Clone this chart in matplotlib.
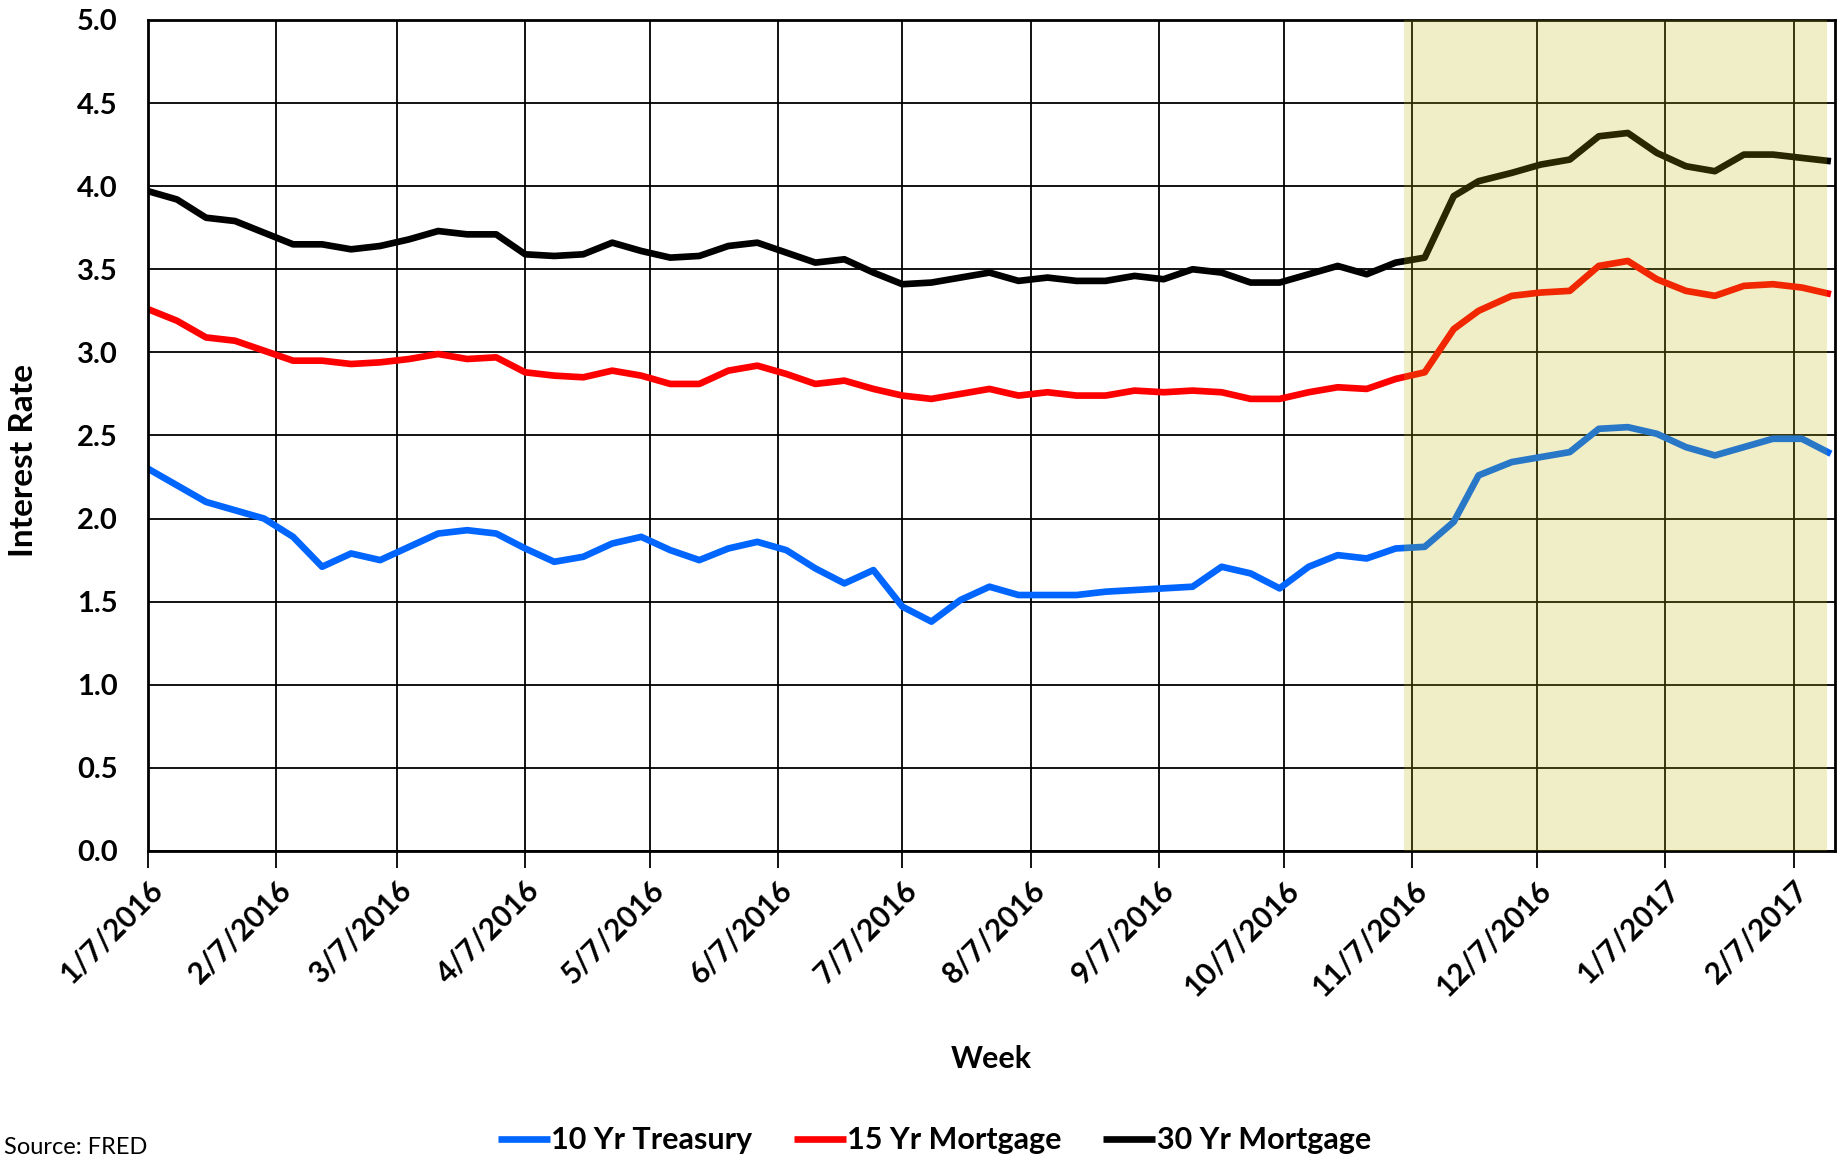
import matplotlib
matplotlib.use('Agg')
import matplotlib.pyplot as plt
import pandas as pd

plt.rcParams['font.family'] = ['Lato', 'DejaVu Sans']

weeks = ['2016-01-07', '2016-01-14', '2016-01-21', '2016-01-28', '2016-02-04', '2016-02-11',
         '2016-02-18', '2016-02-25', '2016-03-03', '2016-03-10', '2016-03-17', '2016-03-24',
         '2016-03-31', '2016-04-07', '2016-04-14', '2016-04-21', '2016-04-28', '2016-05-05',
         '2016-05-12', '2016-05-19', '2016-05-26', '2016-06-02', '2016-06-09', '2016-06-16',
         '2016-06-23', '2016-06-30', '2016-07-07', '2016-07-14', '2016-07-21', '2016-07-28',
         '2016-08-04', '2016-08-11', '2016-08-18', '2016-08-25', '2016-09-01', '2016-09-08',
         '2016-09-15', '2016-09-22', '2016-09-29', '2016-10-06', '2016-10-13', '2016-10-20',
         '2016-10-27', '2016-11-03', '2016-11-10', '2016-11-17', '2016-11-23', '2016-12-01',
         '2016-12-08', '2016-12-15', '2016-12-22', '2016-12-29', '2017-01-05', '2017-01-12',
         '2017-01-19', '2017-01-26', '2017-02-02', '2017-02-09', '2017-02-16']

treasury_10 = [2.30, 2.20, 2.10, 2.05, 2.00, 1.89, 1.71, 1.79, 1.75, 1.83, 1.91, 1.93, 1.91,
               1.82, 1.74, 1.77, 1.85, 1.89, 1.81, 1.75, 1.82, 1.86, 1.81, 1.70, 1.61, 1.69,
               1.47, 1.38, 1.51, 1.59, 1.54, 1.54, 1.54, 1.56, 1.57, 1.58, 1.59, 1.71, 1.67,
               1.58, 1.71, 1.78, 1.76, 1.82, 1.83, 1.98, 2.26, 2.34, 2.37, 2.40, 2.54, 2.55,
               2.51, 2.43, 2.38, 2.43, 2.48, 2.48, 2.39]

mortgage_15 = [3.26, 3.19, 3.09, 3.07, 3.01, 2.95, 2.95, 2.93, 2.94, 2.96, 2.99, 2.96, 2.97,
               2.88, 2.86, 2.85, 2.89, 2.86, 2.81, 2.81, 2.89, 2.92, 2.87, 2.81, 2.83, 2.78,
               2.74, 2.72, 2.75, 2.78, 2.74, 2.76, 2.74, 2.74, 2.77, 2.76, 2.77, 2.76, 2.72,
               2.72, 2.76, 2.79, 2.78, 2.84, 2.88, 3.14, 3.25, 3.34, 3.36, 3.37, 3.52, 3.55,
               3.44, 3.37, 3.34, 3.40, 3.41, 3.39, 3.35]

mortgage_30 = [3.97, 3.92, 3.81, 3.79, 3.72, 3.65, 3.65, 3.62, 3.64, 3.68, 3.73, 3.71, 3.71,
               3.59, 3.58, 3.59, 3.66, 3.61, 3.57, 3.58, 3.64, 3.66, 3.60, 3.54, 3.56, 3.48,
               3.41, 3.42, 3.45, 3.48, 3.43, 3.45, 3.43, 3.43, 3.46, 3.44, 3.50, 3.48, 3.42,
               3.42, 3.47, 3.52, 3.47, 3.54, 3.57, 3.94, 4.03, 4.08, 4.13, 4.16, 4.30, 4.32,
               4.20, 4.12, 4.09, 4.19, 4.19, 4.17, 4.15]

tick_dates = ['2016-01-07', '2016-02-07', '2016-03-07', '2016-04-07', '2016-05-07', '2016-06-07',
              '2016-07-07', '2016-08-07', '2016-09-07', '2016-10-07', '2016-11-07', '2016-12-07',
              '2017-01-07', '2017-02-07']
tick_labels = ['1/7/2016', '2/7/2016', '3/7/2016', '4/7/2016', '5/7/2016', '6/7/2016',
               '7/7/2016', '8/7/2016', '9/7/2016', '10/7/2016', '11/7/2016', '12/7/2016',
               '1/7/2017', '2/7/2017']

x = pd.to_datetime(weeks)

fig = plt.figure(figsize=(18.43, 11.60), dpi=100)
ax = fig.add_axes([0.0803, 0.2664, 0.9154, 0.7164])

ax.plot(x, treasury_10, color='#0066ff', lw=4.8, label='10 Yr Treasury', solid_capstyle='butt')
ax.plot(x, mortgage_15, color='#ff0000', lw=4.8, label='15 Yr Mortgage', solid_capstyle='butt')
ax.plot(x, mortgage_30, color='#000000', lw=4.8, label='30 Yr Mortgage', solid_capstyle='butt')

# post-election period, drawn on top like a translucent highlight
ax.axvspan(pd.Timestamp('2016-11-05'), pd.Timestamp('2017-02-15'),
           color=(0.74, 0.71, 0.0), alpha=0.22, lw=0, zorder=5)

ax.set_ylim(0, 5)
ax.set_yticks([0, 0.5, 1, 1.5, 2, 2.5, 3, 3.5, 4, 4.5, 5])
ax.set_yticklabels(['0.0', '0.5', '1.0', '1.5', '2.0', '2.5', '3.0', '3.5', '4.0', '4.5', '5.0'])
ax.set_xlim(pd.Timestamp('2016-01-07'), pd.Timestamp('2017-02-17'))
ax.set_xticks(pd.to_datetime(tick_dates))
ax.set_xticklabels(tick_labels, rotation=45, ha='right', rotation_mode='anchor')

ax.grid(True, color='black', lw=1.3)
ax.set_axisbelow(True)
for s in ax.spines.values():
    s.set_linewidth(2)
ax.tick_params(axis='y', length=0, pad=22, labelsize=21)
ax.tick_params(axis='x', length=12, width=1.3, pad=6, labelsize=21.5)
for lab in ax.get_xticklabels() + ax.get_yticklabels():
    lab.set_fontweight('bold')

ax.set_xlabel('Week', fontsize=22, fontweight='bold')
ax.xaxis.set_label_coords(0.5, -0.233)
ax.set_ylabel('Interest Rate', fontsize=24, fontweight='bold')
ax.yaxis.set_label_coords(-0.065, 0.47)

leg = fig.legend(loc='center', bbox_to_anchor=(0.507, 0.017), ncol=3, frameon=False,
                 handlelength=1.7, handletextpad=0.05, columnspacing=1.35,
                 prop={'weight': 'bold', 'size': 22})

fig.text(0.002, 0.002, 'Source: FRED', ha='left', va='bottom', fontsize=17)

fig.savefig('out.png', dpi=100)
